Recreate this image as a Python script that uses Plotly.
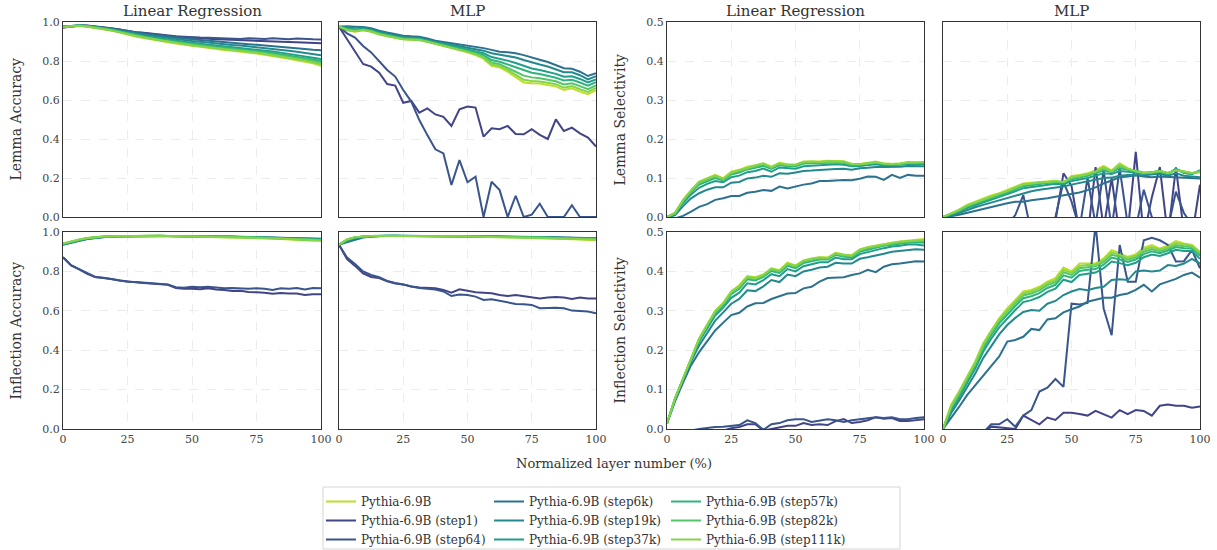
import plotly.graph_objects as go

N_LAYERS = 33
layer_pct = [i * 100.0 / 32 for i in range(N_LAYERS)]

models = ["Pythia-6.9B", "Pythia-6.9B (step1)", "Pythia-6.9B (step64)", "Pythia-6.9B (step6k)",
          "Pythia-6.9B (step19k)", "Pythia-6.9B (step37k)", "Pythia-6.9B (step57k)",
          "Pythia-6.9B (step82k)", "Pythia-6.9B (step111k)"]
colors = ["#bddf26", "#414487", "#3a548c", "#2c728e", "#23898e", "#1f9f88", "#2fb47c", "#54c568", "#86d549"]

col_titles = ["Linear Regression", "MLP", "Linear Regression", "MLP"]
row_labels_acc = ["Lemma Accuracy", "Inflection Accuracy"]
row_labels_sel = ["Lemma Selectivity", "Inflection Selectivity"]
x_ticks = [0, 25, 50, 75, 100]
acc_ticks = [0.0, 0.2, 0.4, 0.6, 0.8, 1.0]
sel_ticks = [0.0, 0.1, 0.2, 0.3, 0.4, 0.5]

lemma_acc_lr = {
    "Pythia-6.9B": [0.975,0.978,0.980,0.976,0.970,0.964,0.956,0.946,0.934,0.925,0.918,0.910,0.902,0.896,0.890,0.884,0.877,0.872,0.866,0.861,0.856,0.852,0.848,0.843,0.838,0.832,0.826,0.819,0.811,0.804,0.797,0.788,0.776],
    "Pythia-6.9B (step1)": [0.972,0.977,0.981,0.981,0.977,0.972,0.967,0.961,0.954,0.947,0.944,0.938,0.932,0.928,0.925,0.922,0.918,0.916,0.914,0.912,0.910,0.908,0.906,0.905,0.904,0.902,0.900,0.899,0.897,0.896,0.894,0.893,0.891],
    "Pythia-6.9B (step64)": [0.972,0.978,0.982,0.982,0.978,0.973,0.968,0.962,0.955,0.948,0.945,0.940,0.934,0.930,0.927,0.925,0.921,0.920,0.919,0.917,0.916,0.915,0.913,0.917,0.915,0.913,0.917,0.914,0.912,0.916,0.912,0.911,0.910],
    "Pythia-6.9B (step6k)": [0.977,0.981,0.982,0.980,0.976,0.971,0.966,0.959,0.952,0.946,0.940,0.935,0.929,0.925,0.920,0.916,0.912,0.908,0.903,0.900,0.896,0.893,0.890,0.886,0.883,0.880,0.876,0.872,0.868,0.865,0.862,0.858,0.855],
    "Pythia-6.9B (step19k)": [0.977,0.981,0.982,0.980,0.975,0.970,0.964,0.956,0.948,0.941,0.935,0.929,0.923,0.918,0.913,0.908,0.903,0.899,0.894,0.890,0.886,0.882,0.879,0.875,0.871,0.867,0.862,0.857,0.852,0.847,0.842,0.836,0.830],
    "Pythia-6.9B (step37k)": [0.976,0.980,0.982,0.979,0.974,0.968,0.962,0.953,0.944,0.936,0.929,0.922,0.915,0.910,0.905,0.899,0.893,0.889,0.884,0.879,0.875,0.871,0.867,0.863,0.859,0.854,0.849,0.843,0.837,0.831,0.825,0.818,0.810],
    "Pythia-6.9B (step57k)": [0.976,0.980,0.982,0.978,0.973,0.967,0.960,0.951,0.941,0.933,0.925,0.918,0.911,0.905,0.900,0.894,0.888,0.883,0.878,0.873,0.869,0.865,0.861,0.856,0.852,0.847,0.841,0.835,0.829,0.822,0.815,0.808,0.800],
    "Pythia-6.9B (step82k)": [0.976,0.979,0.981,0.977,0.972,0.966,0.958,0.949,0.938,0.930,0.922,0.915,0.907,0.901,0.896,0.890,0.884,0.879,0.873,0.868,0.864,0.860,0.856,0.851,0.846,0.841,0.835,0.829,0.822,0.815,0.808,0.800,0.790],
    "Pythia-6.9B (step111k)": [0.975,0.979,0.981,0.977,0.971,0.965,0.957,0.948,0.936,0.928,0.920,0.913,0.905,0.899,0.893,0.887,0.880,0.875,0.869,0.864,0.860,0.856,0.852,0.847,0.842,0.836,0.830,0.824,0.816,0.809,0.802,0.794,0.783],
}

lemma_acc_mlp = {
    "Pythia-6.9B": [0.976,0.958,0.950,0.958,0.950,0.936,0.927,0.918,0.911,0.909,0.907,0.898,0.888,0.878,0.868,0.855,0.845,0.830,0.812,0.775,0.767,0.745,0.718,0.690,0.686,0.684,0.677,0.670,0.651,0.660,0.643,0.630,0.650],
    "Pythia-6.9B (step1)": [0.976,0.911,0.848,0.785,0.771,0.740,0.682,0.674,0.586,0.595,0.535,0.557,0.526,0.514,0.467,0.552,0.566,0.561,0.412,0.455,0.450,0.467,0.426,0.424,0.450,0.421,0.400,0.501,0.441,0.458,0.429,0.407,0.361],
    "Pythia-6.9B (step64)": [0.976,0.942,0.920,0.877,0.844,0.797,0.754,0.720,0.651,0.592,0.497,0.420,0.347,0.326,0.164,0.292,0.178,0.207,0.0,0.181,0.138,0.0,0.109,0.0,0.012,0.068,0.0,0.0,0.0,0.060,0.0,0.0,0.0],
    "Pythia-6.9B (step6k)": [0.976,0.978,0.976,0.974,0.968,0.955,0.946,0.938,0.930,0.927,0.925,0.915,0.904,0.898,0.892,0.885,0.877,0.872,0.866,0.857,0.848,0.845,0.840,0.830,0.816,0.806,0.795,0.780,0.763,0.760,0.745,0.723,0.737],
    "Pythia-6.9B (step19k)": [0.976,0.974,0.970,0.970,0.963,0.950,0.941,0.932,0.924,0.921,0.919,0.909,0.898,0.891,0.884,0.876,0.868,0.862,0.853,0.840,0.832,0.826,0.818,0.805,0.792,0.782,0.772,0.758,0.742,0.742,0.727,0.706,0.722],
    "Pythia-6.9B (step37k)": [0.976,0.968,0.962,0.965,0.958,0.945,0.935,0.926,0.919,0.916,0.914,0.905,0.894,0.886,0.878,0.869,0.860,0.852,0.840,0.820,0.812,0.802,0.790,0.775,0.762,0.754,0.745,0.734,0.719,0.722,0.708,0.690,0.706],
    "Pythia-6.9B (step57k)": [0.976,0.964,0.957,0.962,0.955,0.941,0.932,0.923,0.916,0.913,0.911,0.902,0.892,0.883,0.874,0.864,0.855,0.845,0.830,0.805,0.796,0.782,0.767,0.750,0.740,0.733,0.724,0.714,0.700,0.704,0.690,0.674,0.692],
    "Pythia-6.9B (step82k)": [0.976,0.961,0.954,0.960,0.952,0.939,0.929,0.920,0.913,0.911,0.909,0.900,0.890,0.880,0.871,0.859,0.850,0.838,0.822,0.792,0.783,0.766,0.745,0.725,0.716,0.712,0.704,0.696,0.680,0.686,0.671,0.656,0.675],
    "Pythia-6.9B (step111k)": [0.976,0.959,0.952,0.959,0.951,0.937,0.928,0.919,0.912,0.910,0.908,0.899,0.889,0.879,0.869,0.857,0.847,0.834,0.816,0.782,0.774,0.754,0.729,0.704,0.698,0.695,0.688,0.681,0.663,0.671,0.655,0.641,0.662],
}

lemma_sel_lr = {
    "Pythia-6.9B": [0.000,0.011,0.044,0.069,0.091,0.099,0.108,0.099,0.116,0.121,0.129,0.133,0.138,0.129,0.139,0.135,0.134,0.142,0.142,0.142,0.144,0.144,0.143,0.136,0.136,0.139,0.142,0.137,0.136,0.137,0.141,0.140,0.140],
    "Pythia-6.9B (step1)": [-0.020,-0.035,-0.045,-0.050,-0.055,-0.058,-0.060,-0.062,-0.060,-0.064,-0.066,-0.063,-0.067,-0.065,-0.068,-0.070,-0.066,-0.069,-0.071,-0.068,-0.072,-0.070,-0.073,-0.071,-0.074,-0.072,-0.075,-0.073,-0.076,-0.074,-0.077,-0.075,-0.078],
    "Pythia-6.9B (step64)": [-0.020,-0.030,-0.035,-0.040,-0.038,-0.042,-0.045,-0.040,-0.044,-0.046,-0.043,-0.047,-0.045,-0.048,-0.044,-0.046,-0.049,-0.045,-0.047,-0.050,-0.046,-0.048,-0.051,-0.047,-0.049,-0.052,-0.048,-0.050,-0.053,-0.049,-0.051,-0.054,-0.050],
    "Pythia-6.9B (step6k)": [-0.010,-0.003,0.003,0.014,0.026,0.033,0.044,0.048,0.054,0.054,0.062,0.065,0.069,0.067,0.078,0.073,0.079,0.083,0.086,0.092,0.092,0.094,0.095,0.094,0.098,0.104,0.103,0.095,0.108,0.100,0.108,0.106,0.106],
    "Pythia-6.9B (step19k)": [-0.003,0.005,0.028,0.048,0.061,0.070,0.076,0.076,0.088,0.090,0.099,0.101,0.106,0.103,0.112,0.111,0.114,0.118,0.119,0.121,0.122,0.123,0.124,0.121,0.125,0.126,0.128,0.128,0.128,0.129,0.131,0.130,0.130],
    "Pythia-6.9B (step37k)": [0.000,0.008,0.036,0.058,0.075,0.085,0.092,0.089,0.102,0.106,0.115,0.118,0.124,0.116,0.127,0.125,0.124,0.130,0.131,0.132,0.134,0.135,0.134,0.130,0.131,0.133,0.135,0.132,0.133,0.134,0.136,0.136,0.136],
    "Pythia-6.9B (step57k)": [0.000,0.009,0.040,0.064,0.083,0.092,0.100,0.094,0.109,0.114,0.122,0.126,0.131,0.123,0.133,0.130,0.130,0.137,0.138,0.139,0.140,0.140,0.139,0.133,0.134,0.136,0.139,0.135,0.134,0.135,0.139,0.138,0.138],
    "Pythia-6.9B (step82k)": [0.000,0.010,0.042,0.066,0.087,0.096,0.104,0.096,0.112,0.118,0.125,0.130,0.135,0.126,0.136,0.133,0.133,0.140,0.141,0.140,0.142,0.142,0.141,0.135,0.135,0.137,0.140,0.136,0.135,0.136,0.139,0.139,0.140],
    "Pythia-6.9B (step111k)": [0.000,0.010,0.043,0.068,0.090,0.098,0.106,0.098,0.114,0.120,0.127,0.132,0.137,0.128,0.138,0.134,0.134,0.141,0.142,0.141,0.143,0.143,0.142,0.136,0.135,0.138,0.141,0.137,0.136,0.137,0.140,0.140,0.141],
}

lemma_sel_mlp = {
    "Pythia-6.9B": [0.000,0.009,0.019,0.031,0.039,0.048,0.055,0.061,0.069,0.078,0.086,0.088,0.090,0.091,0.093,0.088,0.105,0.108,0.112,0.120,0.131,0.119,0.138,0.125,0.116,0.112,0.114,0.120,0.112,0.122,0.116,0.112,0.114],
    "Pythia-6.9B (step1)": [-0.030,-0.050,-0.060,-0.060,-0.055,-0.060,-0.058,-0.060,-0.057,-0.060,-0.055,-0.060,-0.058,-0.060,-0.010,0.112,0.080,-0.040,-0.050,0.128,-0.030,0.100,-0.050,-0.040,0.167,-0.050,0.050,0.128,-0.050,0.127,-0.040,-0.050,0.083],
    "Pythia-6.9B (step64)": [-0.030,-0.040,-0.050,-0.045,-0.050,-0.048,-0.050,-0.045,-0.020,0.005,0.056,-0.040,-0.050,-0.045,0.000,0.090,0.040,-0.030,0.100,-0.020,0.120,-0.030,0.125,-0.020,-0.030,0.070,0.000,-0.020,-0.030,0.065,0.010,-0.020,-0.010],
    "Pythia-6.9B (step6k)": [0.000,0.002,0.006,0.011,0.016,0.020,0.025,0.030,0.035,0.039,0.039,0.043,0.045,0.048,0.052,0.056,0.059,0.063,0.069,0.076,0.086,0.094,0.102,0.104,0.107,0.104,0.102,0.104,0.103,0.103,0.101,0.100,0.099],
    "Pythia-6.9B (step19k)": [0.000,0.004,0.010,0.018,0.025,0.031,0.037,0.043,0.049,0.056,0.062,0.066,0.070,0.073,0.076,0.078,0.083,0.087,0.091,0.095,0.100,0.101,0.106,0.108,0.108,0.107,0.109,0.111,0.106,0.112,0.106,0.104,0.102],
    "Pythia-6.9B (step37k)": [0.000,0.006,0.013,0.023,0.030,0.037,0.044,0.051,0.058,0.066,0.074,0.077,0.080,0.082,0.085,0.084,0.092,0.096,0.100,0.106,0.112,0.110,0.118,0.116,0.114,0.111,0.113,0.116,0.110,0.124,0.113,0.110,0.120],
    "Pythia-6.9B (step57k)": [0.000,0.007,0.015,0.026,0.034,0.041,0.048,0.055,0.062,0.071,0.079,0.082,0.085,0.087,0.089,0.088,0.097,0.101,0.106,0.112,0.120,0.115,0.125,0.121,0.117,0.113,0.115,0.118,0.112,0.121,0.115,0.111,0.118],
    "Pythia-6.9B (step82k)": [0.000,0.008,0.017,0.028,0.036,0.044,0.051,0.058,0.065,0.074,0.082,0.085,0.087,0.089,0.091,0.090,0.100,0.104,0.108,0.115,0.124,0.117,0.130,0.123,0.118,0.114,0.115,0.117,0.113,0.119,0.116,0.112,0.117],
    "Pythia-6.9B (step111k)": [0.000,0.008,0.018,0.030,0.038,0.046,0.053,0.060,0.067,0.076,0.084,0.086,0.089,0.090,0.092,0.090,0.102,0.106,0.110,0.117,0.127,0.118,0.134,0.124,0.117,0.113,0.114,0.118,0.113,0.120,0.116,0.113,0.116],
}

infl_acc_lr = {
    "Pythia-6.9B": [0.942,0.952,0.962,0.969,0.974,0.977,0.978,0.979,0.980,0.980,0.979,0.980,0.981,0.980,0.979,0.979,0.978,0.978,0.977,0.977,0.976,0.975,0.974,0.972,0.970,0.969,0.967,0.965,0.962,0.960,0.958,0.956,0.955],
    "Pythia-6.9B (step1)": [0.872,0.830,0.810,0.788,0.771,0.767,0.761,0.754,0.748,0.745,0.741,0.737,0.734,0.732,0.716,0.712,0.712,0.710,0.714,0.708,0.706,0.700,0.702,0.696,0.694,0.692,0.686,0.690,0.688,0.688,0.680,0.684,0.684],
    "Pythia-6.9B (step64)": [0.872,0.832,0.812,0.790,0.772,0.768,0.762,0.755,0.748,0.746,0.742,0.738,0.735,0.733,0.720,0.717,0.722,0.720,0.722,0.718,0.714,0.716,0.713,0.712,0.714,0.712,0.706,0.714,0.712,0.716,0.708,0.716,0.714],
    "Pythia-6.9B (step6k)": [0.935,0.945,0.955,0.964,0.970,0.975,0.977,0.978,0.979,0.979,0.979,0.980,0.980,0.979,0.979,0.979,0.978,0.978,0.978,0.977,0.977,0.976,0.975,0.975,0.974,0.973,0.972,0.971,0.970,0.969,0.968,0.967,0.966],
    "Pythia-6.9B (step19k)": [0.936,0.947,0.957,0.965,0.971,0.975,0.977,0.978,0.979,0.979,0.980,0.980,0.980,0.980,0.979,0.979,0.979,0.978,0.978,0.978,0.977,0.977,0.976,0.975,0.975,0.974,0.973,0.971,0.970,0.969,0.967,0.966,0.965],
    "Pythia-6.9B (step37k)": [0.938,0.949,0.959,0.967,0.972,0.976,0.977,0.978,0.979,0.980,0.980,0.980,0.980,0.980,0.980,0.979,0.979,0.978,0.978,0.978,0.977,0.976,0.976,0.975,0.974,0.972,0.971,0.969,0.968,0.966,0.965,0.963,0.962],
    "Pythia-6.9B (step57k)": [0.939,0.950,0.960,0.968,0.973,0.976,0.978,0.979,0.980,0.980,0.980,0.980,0.981,0.980,0.980,0.979,0.979,0.978,0.978,0.977,0.977,0.976,0.975,0.974,0.973,0.971,0.970,0.968,0.966,0.964,0.963,0.961,0.960],
    "Pythia-6.9B (step82k)": [0.940,0.951,0.961,0.968,0.974,0.977,0.978,0.979,0.980,0.980,0.980,0.980,0.981,0.980,0.980,0.979,0.979,0.978,0.978,0.977,0.977,0.976,0.975,0.973,0.972,0.971,0.969,0.967,0.965,0.963,0.961,0.960,0.959],
    "Pythia-6.9B (step111k)": [0.941,0.952,0.962,0.969,0.974,0.977,0.978,0.979,0.980,0.980,0.980,0.980,0.981,0.980,0.979,0.979,0.978,0.978,0.978,0.977,0.976,0.975,0.974,0.973,0.971,0.970,0.968,0.966,0.964,0.962,0.960,0.958,0.957],
}

infl_acc_mlp = {
    "Pythia-6.9B": [0.935,0.962,0.974,0.978,0.979,0.980,0.981,0.980,0.979,0.980,0.979,0.979,0.978,0.979,0.977,0.978,0.976,0.976,0.975,0.976,0.974,0.973,0.973,0.972,0.971,0.970,0.968,0.967,0.964,0.963,0.962,0.960,0.960],
    "Pythia-6.9B (step1)": [0.935,0.862,0.828,0.790,0.772,0.766,0.750,0.739,0.733,0.723,0.718,0.716,0.714,0.706,0.692,0.709,0.700,0.694,0.692,0.689,0.680,0.675,0.680,0.675,0.670,0.663,0.667,0.670,0.667,0.660,0.667,0.663,0.663],
    "Pythia-6.9B (step64)": [0.935,0.870,0.838,0.800,0.782,0.770,0.752,0.741,0.734,0.723,0.716,0.712,0.708,0.698,0.675,0.683,0.680,0.672,0.655,0.658,0.650,0.640,0.635,0.633,0.630,0.613,0.616,0.616,0.613,0.601,0.599,0.596,0.587],
    "Pythia-6.9B (step6k)": [0.936,0.948,0.962,0.972,0.977,0.979,0.980,0.981,0.980,0.980,0.980,0.980,0.980,0.979,0.979,0.979,0.978,0.978,0.978,0.977,0.977,0.976,0.976,0.976,0.975,0.975,0.974,0.973,0.972,0.971,0.970,0.969,0.968],
    "Pythia-6.9B (step19k)": [0.936,0.952,0.967,0.975,0.979,0.980,0.981,0.981,0.980,0.980,0.980,0.980,0.980,0.979,0.979,0.979,0.978,0.978,0.977,0.977,0.977,0.976,0.976,0.975,0.975,0.974,0.973,0.972,0.971,0.970,0.969,0.968,0.967],
    "Pythia-6.9B (step37k)": [0.936,0.958,0.971,0.977,0.979,0.981,0.981,0.981,0.980,0.980,0.980,0.980,0.979,0.979,0.979,0.978,0.978,0.978,0.977,0.977,0.976,0.976,0.975,0.975,0.974,0.973,0.972,0.971,0.970,0.969,0.968,0.967,0.966],
    "Pythia-6.9B (step57k)": [0.936,0.960,0.972,0.977,0.980,0.981,0.981,0.981,0.980,0.980,0.980,0.980,0.979,0.979,0.979,0.978,0.978,0.977,0.977,0.976,0.976,0.975,0.975,0.974,0.973,0.972,0.971,0.970,0.968,0.967,0.966,0.965,0.964],
    "Pythia-6.9B (step82k)": [0.936,0.961,0.973,0.978,0.980,0.980,0.981,0.981,0.980,0.980,0.980,0.979,0.979,0.979,0.978,0.978,0.977,0.977,0.976,0.976,0.975,0.975,0.974,0.974,0.973,0.972,0.970,0.969,0.967,0.966,0.965,0.964,0.963],
    "Pythia-6.9B (step111k)": [0.936,0.962,0.974,0.978,0.980,0.980,0.981,0.980,0.980,0.980,0.979,0.979,0.979,0.979,0.978,0.978,0.977,0.977,0.976,0.976,0.975,0.974,0.974,0.973,0.972,0.971,0.969,0.968,0.966,0.965,0.964,0.962,0.962],
}

infl_sel_lr = {
    "Pythia-6.9B": [0.014,0.078,0.128,0.179,0.230,0.265,0.300,0.320,0.350,0.365,0.388,0.385,0.392,0.408,0.403,0.422,0.415,0.428,0.433,0.436,0.435,0.447,0.443,0.441,0.456,0.462,0.466,0.470,0.473,0.476,0.478,0.480,0.482],
    "Pythia-6.9B (step1)": [-0.020,-0.018,-0.015,-0.012,-0.010,-0.008,-0.006,-0.004,0.002,0.005,0.012,0.012,-0.004,0.000,0.004,0.008,0.008,0.015,0.010,0.012,0.010,0.020,0.025,0.015,0.018,0.022,0.030,0.026,0.028,0.020,0.020,0.022,0.025],
    "Pythia-6.9B (step64)": [-0.015,-0.012,-0.008,-0.004,0.000,0.003,0.005,0.006,0.008,0.010,0.022,0.015,-0.002,0.012,0.015,0.022,0.025,0.025,0.018,0.022,0.025,0.022,0.018,0.022,0.025,0.028,0.030,0.028,0.030,0.025,0.025,0.028,0.030],
    "Pythia-6.9B (step6k)": [0.014,0.070,0.118,0.162,0.195,0.222,0.250,0.270,0.289,0.295,0.311,0.319,0.320,0.330,0.338,0.344,0.345,0.357,0.361,0.374,0.383,0.384,0.385,0.391,0.395,0.404,0.398,0.412,0.418,0.420,0.423,0.426,0.425],
    "Pythia-6.9B (step19k)": [0.014,0.075,0.125,0.172,0.212,0.245,0.275,0.296,0.318,0.330,0.352,0.350,0.362,0.378,0.373,0.392,0.388,0.400,0.404,0.410,0.412,0.422,0.420,0.420,0.432,0.436,0.440,0.445,0.450,0.452,0.455,0.456,0.455],
    "Pythia-6.9B (step37k)": [0.014,0.076,0.126,0.175,0.222,0.255,0.288,0.308,0.333,0.346,0.370,0.367,0.378,0.393,0.388,0.406,0.400,0.413,0.418,0.423,0.423,0.435,0.431,0.431,0.444,0.450,0.454,0.459,0.463,0.465,0.468,0.468,0.466],
    "Pythia-6.9B (step57k)": [0.014,0.077,0.127,0.177,0.226,0.260,0.294,0.314,0.342,0.356,0.380,0.377,0.386,0.401,0.396,0.414,0.408,0.421,0.426,0.430,0.430,0.442,0.437,0.436,0.450,0.456,0.460,0.465,0.468,0.471,0.473,0.474,0.473],
    "Pythia-6.9B (step82k)": [0.014,0.078,0.128,0.178,0.228,0.263,0.297,0.317,0.346,0.360,0.384,0.381,0.389,0.405,0.400,0.418,0.412,0.425,0.430,0.433,0.433,0.445,0.440,0.439,0.453,0.459,0.463,0.468,0.471,0.474,0.476,0.477,0.477],
    "Pythia-6.9B (step111k)": [0.014,0.078,0.128,0.179,0.229,0.264,0.299,0.319,0.348,0.363,0.386,0.383,0.391,0.407,0.402,0.420,0.414,0.427,0.432,0.435,0.434,0.446,0.442,0.440,0.455,0.461,0.465,0.469,0.472,0.475,0.477,0.479,0.480],
}

infl_sel_mlp = {
    "Pythia-6.9B": [0.000,0.061,0.095,0.133,0.171,0.218,0.251,0.281,0.306,0.328,0.349,0.353,0.361,0.374,0.383,0.410,0.400,0.420,0.420,0.420,0.433,0.454,0.446,0.437,0.443,0.460,0.467,0.458,0.465,0.477,0.471,0.467,0.450],
    "Pythia-6.9B (step1)": [-0.060,-0.050,-0.040,-0.030,-0.020,-0.010,0.006,0.004,0.002,0.000,0.034,0.023,0.012,0.029,0.023,0.041,0.041,0.038,0.034,0.046,0.038,0.029,0.048,0.038,0.048,0.046,0.034,0.059,0.062,0.059,0.059,0.054,0.057],
    "Pythia-6.9B (step64)": [-0.050,-0.050,-0.045,-0.040,-0.030,-0.010,0.012,0.012,0.025,0.006,0.034,0.048,0.095,0.105,0.127,0.107,0.318,0.316,0.320,0.520,0.306,0.238,0.467,0.374,0.374,0.479,0.485,0.479,0.467,0.425,0.426,0.454,0.408],
    "Pythia-6.9B (step6k)": [0.000,0.027,0.056,0.086,0.111,0.133,0.158,0.184,0.222,0.226,0.234,0.254,0.251,0.278,0.281,0.296,0.304,0.311,0.323,0.328,0.333,0.333,0.340,0.344,0.353,0.366,0.349,0.367,0.374,0.381,0.391,0.397,0.384],
    "Pythia-6.9B (step19k)": [0.000,0.040,0.072,0.106,0.140,0.180,0.210,0.240,0.264,0.282,0.297,0.302,0.300,0.318,0.325,0.340,0.349,0.355,0.352,0.358,0.361,0.378,0.380,0.378,0.400,0.402,0.400,0.402,0.416,0.414,0.420,0.432,0.420],
    "Pythia-6.9B (step37k)": [0.000,0.048,0.081,0.117,0.153,0.196,0.229,0.258,0.281,0.302,0.322,0.327,0.335,0.348,0.356,0.379,0.373,0.391,0.394,0.397,0.408,0.425,0.421,0.416,0.422,0.436,0.443,0.439,0.446,0.455,0.452,0.452,0.432],
    "Pythia-6.9B (step57k)": [0.000,0.052,0.086,0.123,0.160,0.204,0.238,0.268,0.291,0.312,0.332,0.337,0.345,0.358,0.366,0.390,0.384,0.401,0.404,0.406,0.417,0.435,0.430,0.424,0.430,0.444,0.451,0.446,0.453,0.462,0.459,0.458,0.440],
    "Pythia-6.9B (step82k)": [0.000,0.055,0.090,0.127,0.165,0.210,0.244,0.274,0.298,0.319,0.339,0.344,0.352,0.365,0.373,0.398,0.391,0.408,0.411,0.413,0.424,0.442,0.437,0.430,0.436,0.450,0.457,0.451,0.458,0.467,0.464,0.462,0.445],
    "Pythia-6.9B (step111k)": [0.000,0.058,0.093,0.130,0.168,0.214,0.248,0.278,0.302,0.324,0.344,0.349,0.357,0.370,0.378,0.404,0.396,0.414,0.416,0.417,0.429,0.448,0.442,0.434,0.440,0.455,0.462,0.455,0.462,0.472,0.468,0.465,0.448],
}

panels = [lemma_acc_lr, lemma_acc_mlp, lemma_sel_lr, lemma_sel_mlp,
          infl_acc_lr, infl_acc_mlp, infl_sel_lr, infl_sel_mlp]
for p in panels:
    for k, v in p.items():
        if len(v) != N_LAYERS:
            raise ValueError(f"{k}: {len(v)}")

W, H = 1217, 550
col_px = [(63, 321), (339, 596), (667, 924), (943, 1200)]
row_px = [(22, 217), (232, 429)]
FONT = "DejaVu Serif"

fig = go.Figure()
legend_of = ["legend", "legend", "legend", "legend2", "legend2", "legend2", "legend3", "legend3", "legend3"]

for k, panel in enumerate(panels):
    r, c = divmod(k, 4)
    ax = "" if k == 0 else str(k + 1)
    for m_i, m in enumerate(models):
        fig.add_trace(go.Scatter(
            x=layer_pct, y=panel[m], mode="lines", name=m,
            line=dict(color=colors[m_i], width=2),
            xaxis="x" + ax, yaxis="y" + ax,
            showlegend=(k == 0), legend=legend_of[m_i],
            hoverinfo="skip"))
    x0, x1 = col_px[c]
    y0, y1 = row_px[r]
    is_sel = c >= 2
    fig.layout["xaxis" + ax] = dict(
        domain=[x0 / W, x1 / W], anchor="y" + ax, range=[0, 100],
        tickvals=x_ticks, showticklabels=(r == 1), ticks="",
        tickfont=dict(family=FONT, size=11, color="#444"),
        showgrid=True, gridcolor="#ececec", griddash="dash", gridwidth=0.8,
        zeroline=False, showline=True, linecolor="#333", linewidth=1, mirror=True)
    fig.layout["yaxis" + ax] = dict(
        domain=[1 - y1 / H, 1 - y0 / H], anchor="x" + ax,
        range=[0, 0.5] if is_sel else [0, 1],
        tickvals=sel_ticks if is_sel else acc_ticks, tickformat=".1f",
        showticklabels=(c in (0, 2)), ticks="",
        tickfont=dict(family=FONT, size=11, color="#444"),
        showgrid=True, gridcolor="#ececec", griddash="dash", gridwidth=0.8,
        zeroline=False, showline=True, linecolor="#333", linewidth=1, mirror=True)

annotations = []
for c, t in enumerate(col_titles):
    x0, x1 = col_px[c]
    annotations.append(dict(text=t, x=(x0 + x1) / 2 / W, y=1 - 11 / H, xref="paper", yref="paper",
                            showarrow=False, xanchor="center", yanchor="middle",
                            font=dict(family=FONT, size=15, color="#333")))
for r in range(2):
    y0, y1 = row_px[r]
    yc = 1 - (y0 + y1) / 2 / H
    annotations.append(dict(text=row_labels_acc[r], x=15 / W, y=yc, xref="paper", yref="paper",
                            showarrow=False, textangle=-90, xanchor="center", yanchor="middle",
                            font=dict(family=FONT, size=14, color="#333")))
    annotations.append(dict(text=row_labels_sel[r], x=619 / W, y=yc, xref="paper", yref="paper",
                            showarrow=False, textangle=-90, xanchor="center", yanchor="middle",
                            font=dict(family=FONT, size=14, color="#333")))
annotations.append(dict(text="Normalized layer number (%)", x=614 / W, y=1 - 463 / H, xref="paper", yref="paper",
                        showarrow=False, xanchor="center", yanchor="middle",
                        font=dict(family=FONT, size=13, color="#333")))

leg_common = dict(xanchor="left", yanchor="top", y=1 - 487 / H, bgcolor="rgba(0,0,0,0)",
                  font=dict(family=FONT, size=12, color="#333"), itemwidth=30,
                  tracegroupgap=0, orientation="v")
fig.update_layout(
    width=W, height=H, margin=dict(l=0, r=0, t=0, b=0, autoexpand=False),
    paper_bgcolor="white", plot_bgcolor="white",
    font=dict(family=FONT, color="#333"),
    annotations=annotations,
    legend=dict(x=321 / W, **leg_common),
    legend2=dict(x=489 / W, **leg_common),
    legend3=dict(x=666 / W, **leg_common),
    shapes=[dict(type="rect", xref="paper", yref="paper",
                 x0=323 / W, x1=900 / W, y0=1 - 549 / H, y1=1 - 487 / H,
                 line=dict(color="#d5d5d5", width=1), fillcolor="rgba(0,0,0,0)", layer="below")],
)

fig.write_html("out.html")
